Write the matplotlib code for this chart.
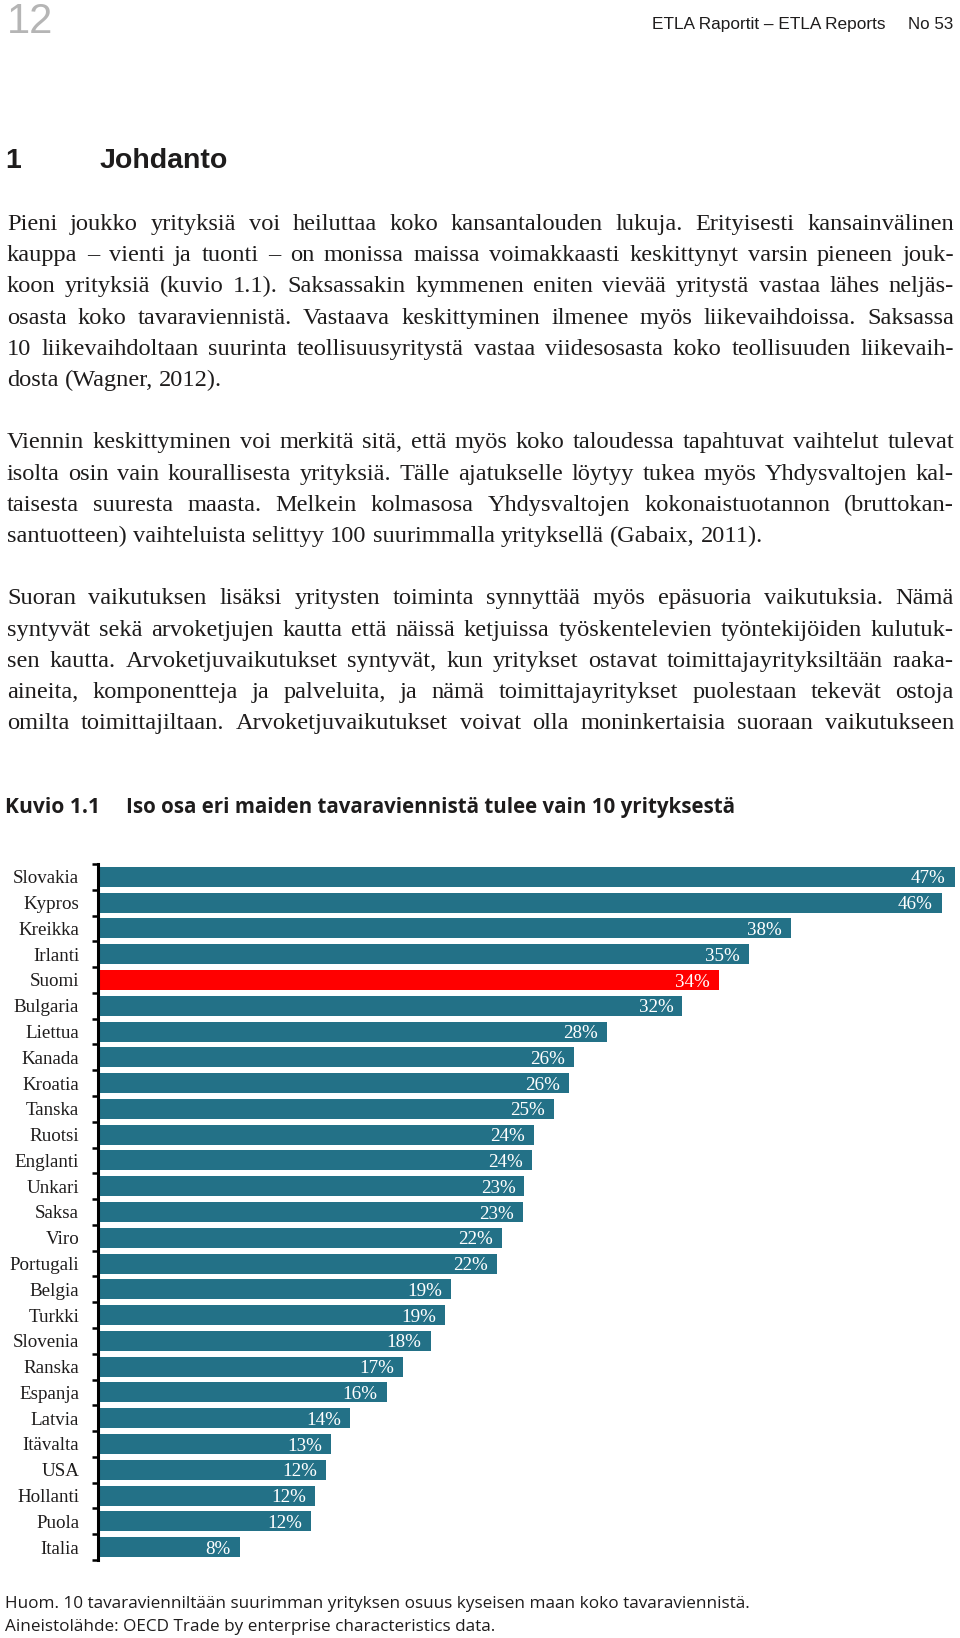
import matplotlib
matplotlib.use('Agg')
import matplotlib.pyplot as plt
from matplotlib import font_manager
import numpy as np

# -------------------------------------------------------------------------------------------------------------------- #
# DATA

countries = ['Slovakia', 'Kypros', 'Kreikka', 'Irlanti', 'Suomi', 'Bulgaria', 'Liettua', 'Kanada', 'Kroatia',
             'Tanska', 'Ruotsi', 'Englanti', 'Unkari', 'Saksa', 'Viro', 'Portugali', 'Belgia', 'Turkki',
             'Slovenia', 'Ranska', 'Espanja', 'Latvia', 'Itävalta', 'USA', 'Hollanti', 'Puola', 'Italia']
shares = [46.6, 45.9, 37.7, 35.4, 33.8, 31.8, 27.7, 25.9, 25.6, 24.8, 23.7, 23.6, 23.2, 23.1, 22.0,
          21.7, 19.2, 18.9, 18.1, 16.6, 15.7, 13.7, 12.7, 12.4, 11.8, 11.6, 7.7]
highlight = 'Suomi'

page_number = '12'
header = 'ETLA Raportit – ETLA Reports'
header_no = 'No 53'
chapter_no = '1'
chapter = 'Johdanto'

para1 = ['Pieni joukko yrityksiä voi heiluttaa koko kansantalouden lukuja. Erityisesti kansainvälinen',
         'kauppa – vienti ja tuonti – on monissa maissa voimakkaasti keskittynyt varsin pieneen jouk-',
         'koon yrityksiä (kuvio 1.1). Saksassakin kymmenen eniten vievää yritystä vastaa lähes neljäs-',
         'osasta koko tavaraviennistä. Vastaava keskittyminen ilmenee myös liikevaihdoissa. Saksassa',
         '10 liikevaihdoltaan suurinta teollisuusyritystä vastaa viidesosasta koko teollisuuden liikevaih-',
         'dosta (Wagner, 2012).']
para2 = ['Viennin keskittyminen voi merkitä sitä, että myös koko taloudessa tapahtuvat vaihtelut tulevat',
         'isolta osin vain kourallisesta yrityksiä. Tälle ajatukselle löytyy tukea myös Yhdysvaltojen kal-',
         'taisesta suuresta maasta. Melkein kolmasosa Yhdysvaltojen kokonaistuotannon (bruttokan-',
         'santuotteen) vaihteluista selittyy 100 suurimmalla yrityksellä (Gabaix, 2011).']
para3 = ['Suoran vaikutuksen lisäksi yritysten toiminta synnyttää myös epäsuoria vaikutuksia. Nämä',
         'syntyvät sekä arvoketjujen kautta että näissä ketjuissa työskentelevien työntekijöiden kulutuk-',
         'sen kautta. Arvoketjuvaikutukset syntyvät, kun yritykset ostavat toimittajayrityksiltään raaka-',
         'aineita, komponentteja ja palveluita, ja nämä toimittajayritykset puolestaan tekevät ostoja',
         'omilta toimittajiltaan. Arvoketjuvaikutukset voivat olla moninkertaisia suoraan vaikutukseen']

fig_label = 'Kuvio 1.1'
fig_title = 'Iso osa eri maiden tavaraviennistä tulee vain 10 yrityksestä'
note1 = 'Huom. 10 tavaravienniltään suurimman yrityksen osuus kyseisen maan koko tavaraviennistä.'
note2 = 'Aineistolähde: OECD Trade by enterprise characteristics data.'

# -------------------------------------------------------------------------------------------------------------------- #
# FONTS

installed = {f.name for f in font_manager.fontManager.ttflist}


def pick(*candidates):
    for c in candidates:
        if c in installed:
            return c
    return 'DejaVu Sans'


SERIF = pick('Liberation Serif', 'DejaVu Serif')
NARROW = pick('Liberation Sans Narrow', 'Liberation Sans')
SANS = pick('Open Sans', 'Noto Sans', 'DejaVu Sans')
INK = '#1e1c1c'
TEAL = '#237187'
RED = '#ff0000'

# -------------------------------------------------------------------------------------------------------------------- #
# PAGE

W, H = 960, 1638
fig = plt.figure(figsize=(W / 100, H / 100), dpi=100)
fig.patch.set_facecolor('white')
renderer = fig.canvas.get_renderer()


def put(x, y, s, size, width=None, ha='left', **kw):
    t = fig.text(x / W, 1 - y / H, s, fontsize=size, ha=ha, va='baseline', **kw)
    if width:
        w = t.get_window_extent(renderer).width
        t.set_fontsize(size * width / w)
    return t


put(7, 33, page_number, 30, family=NARROW, color='#b5b5b5')
put(652, 29, header, 13, width=233, family=NARROW, color=INK)
put(953, 29, header_no, 13, width=45, ha='right', family=NARROW, color=INK)

put(5, 168, chapter_no, 20.5, family=NARROW, weight='bold', color=INK)
put(100, 168, chapter, 20.5, family=NARROW, weight='bold', color=INK)

# justified body text
LEFT, RIGHT = 7, 954
BODY = 17.6


def measure(words, size):
    out = []
    for w in words:
        t = fig.text(0, 0, w, fontsize=size, family=SERIF)
        out.append(t.get_window_extent(renderer).width)
        t.remove()
    return out


space = measure(['a a'], BODY)[0] - measure(['aa'], BODY)[0]


def justify(line, y, last=False):
    ws = line.split(' ')
    size = BODY
    widths = measure(ws, size)
    natural = sum(widths) + space * 0.85 * (len(ws) - 1)
    if natural > RIGHT - LEFT:
        size = BODY * (RIGHT - LEFT) / natural
        widths = measure(ws, size)
    gap = space if last else (RIGHT - LEFT - sum(widths)) / (len(ws) - 1)
    x = LEFT
    for w, wd in zip(ws, widths):
        put(x, y, w, size, family=SERIF, color=INK)
        x += wd + gap


rows = [(para1, 0, True), (para2, 7, True), (para3, 12, False)]
for par, start, ends in rows:
    for i, line in enumerate(par):
        justify(line, 230 + (start + i) * 31.2, last=(ends and i == len(par) - 1))

put(5, 813, fig_label, 14, width=95, family=SANS, weight='bold', color=INK)
put(126, 813, fig_title, 14, width=613, family=SANS, weight='bold', color=INK)

put(5, 1608, note1, 11, width=743, family=SANS, color=INK)
put(5, 1631, note2, 11, width=489, family=SANS, color=INK)

# -------------------------------------------------------------------------------------------------------------------- #
# CHART

ax = fig.add_axes([98 / W, 1 - 1560 / H, 860 / W, 696 / H])
y = np.arange(len(countries))
colors = [RED if c == highlight else TEAL for c in countries]
ax.barh(y, shares, height=0.78, color=colors)
ax.set_xlim(0, 860 / 18.38)
ax.set_ylim(len(countries) - 0.5, -0.5)

for i, v in enumerate(shares):
    ax.annotate(f'{v:.0f}%', xy=(v, i), xytext=(-6.5, -1.5), textcoords='offset points',
                ha='right', va='center', color='white', fontsize=13.7, family=SERIF)

for s in ['top', 'right', 'bottom']:
    ax.spines[s].set_visible(False)
ax.spines['left'].set_linewidth(2.2)
ax.set_xticks([])
ax.set_yticks(np.arange(-0.5, len(countries), 1))
ax.set_yticklabels([])
ax.tick_params(axis='y', which='major', length=4.5, width=1.8, color='black')
ax.set_yticks(y, minor=True)
ax.set_yticklabels(countries, minor=True, fontsize=13.7, family=SERIF, color=INK)
ax.tick_params(axis='y', which='minor', length=0, pad=13.5)

fig.savefig('out.png', dpi=100)
